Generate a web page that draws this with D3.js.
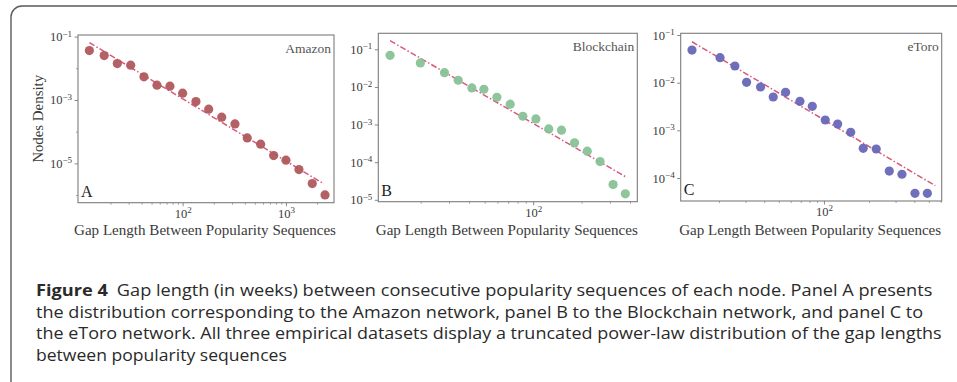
<!DOCTYPE html>
<html>
<head>
<meta charset="utf-8">
<script src="https://cdn.jsdelivr.net/npm/d3@7"></script>
<style>
  body { margin: 0; background: #fff; }
</style>
</head>
<body>
<script>
const width = 957;
const height = 382;

// Panel A - Amazon
const amazonGap = [12.5, 17.4, 23.3, 31.4, 42.2, 56.4, 75.3, 100, 134.5, 178.6, 238.8, 320.9, 422, 568.8, 760, 1000, 1336, 1798, 2388];
const amazonDensity = [0.0361, 0.0252, 0.01406, 0.01253, 0.00536, 0.00293, 0.00272, 0.001637, 8.9e-4, 5.13e-4, 2.87e-4, 1.76e-4, 6.37e-5, 4.03e-5, 1.76e-5, 1.26e-5, 6.37e-6, 2.31e-6, 1.01e-6];
const amazonFitX = [12.5, 2333];
const amazonFitY = [0.0647, 2.25e-6];

// Panel B - Blockchain
const blockchainGap = [12.9, 19.9, 28.1, 34.2, 41.6, 49.4, 59.5, 72, 86.3, 104, 125, 150, 180.7, 217, 260.6, 314, 374];
const blockchainDensity = [0.0693, 0.0433, 0.0239, 0.01503, 0.0094, 0.00867, 0.00532, 0.00347, 0.00166, 0.00141, 7.66e-4, 7.08e-4, 3.26e-4, 1.96e-4, 1.04e-4, 2.55e-5, 1.44e-5];
const blockchainFitX = [12.9, 374];
const blockchainFitY = [0.169, 4.15e-5];

// Panel C - eToro
const etoroGap = [13.2, 20.3, 25.5, 30.5, 37.8, 45.9, 55.5, 69.2, 83.6, 102, 123.4, 150.7, 182.7, 223, 272.5, 331, 404, 488.6];
const etoroDensity = [0.0484, 0.0334, 0.0224, 0.0102, 0.00811, 0.00501, 0.00628, 0.00406, 0.00319, 0.00165, 0.00136, 9.1e-4, 4.2e-4, 4.06e-4, 1.40e-4, 1.20e-4, 4.78e-5, 4.78e-5];
const etoroFitX = [13.2, 552];
const etoroFitY = [0.0723, 6.9e-5];

const xLabel = "Gap Length Between Popularity Sequences";
const yLabel = "Nodes Density";

const captionLines = [
  "Gap length (in weeks) between consecutive popularity sequences of each node. Panel A presents",
  "the distribution corresponding to the Amazon network, panel B to the Blockchain network, and panel C to",
  "the eToro network. All three empirical datasets display a truncated power-law distribution of the gap lengths",
  "between popularity sequences"
];

const panels = [
  { name: "Amazon", letter: "A", gap: amazonGap, density: amazonDensity, fitX: amazonFitX, fitY: amazonFitY,
    color: "#b0585e", x0: 78, x1: 334, y0: 35, y1: 202.7,
    xDomain: [Math.pow(10, 0.987), Math.pow(10, 3.465)], yDomain: [Math.pow(10, -6.24), Math.pow(10, -0.95)],
    xMajor: [1e2, 1e3], yMajor: [1e-1, 1e-3, 1e-5], yMinor: [1e-2, 1e-4, 1e-6], showY: true },
  { name: "Blockchain", letter: "B", gap: blockchainGap, density: blockchainDensity, fitX: blockchainFitX, fitY: blockchainFitY,
    color: "#88c298", x0: 378.3, x1: 637.3, y0: 33.3, y1: 201.7,
    xDomain: [10.9, 444], yDomain: [Math.pow(10, -5.05), Math.pow(10, -0.575)],
    xMajor: [1e2], yMajor: [1e-1, 1e-2, 1e-3, 1e-4, 1e-5], yMinor: [], showY: false },
  { name: "eToro", letter: "C", gap: etoroGap, density: etoroDensity, fitX: etoroFitX, fitY: etoroFitY,
    color: "#6767b8", x0: 680.7, x1: 941.7, y0: 33.3, y1: 201,
    xDomain: [11.1, 609], yDomain: [Math.pow(10, -4.482), Math.pow(10, -0.964)],
    xMajor: [1e2], yMajor: [1e-1, 1e-2, 1e-3, 1e-4], yMinor: [], showY: false }
];

const svg = d3.select("body").append("svg")
    .attr("width", width)
    .attr("height", height);

// outer frame of the figure box
svg.append("rect")
    .attr("x", 11).attr("y", 6)
    .attr("width", 1000).attr("height", 386)
    .attr("rx", 11)
    .attr("fill", "none")
    .attr("stroke", "#5a5a5a")
    .attr("stroke-width", 1.4);

const serif = "'Liberation Serif', 'DejaVu Serif', serif";
const axisColor = "#7c7c7c";
const textColor = "#3a3a3a";

function superscriptLabels(g) {
  g.selectAll(".tick text").each(function(d) {
    const t = d3.select(this);
    const e = Math.round(Math.log10(d));
    t.text("10");
    t.append("tspan")
        .attr("dy", "-0.5em")
        .attr("font-size", "0.72em")
        .text(e < 0 ? "\u2212" + (-e) : String(e));
  });
}

function minorTicks(domain) {
  const out = [];
  const lo = Math.floor(Math.log10(domain[0]));
  const hi = Math.ceil(Math.log10(domain[1]));
  for (let p = lo; p <= hi; p++) {
    for (let m = 2; m <= 9; m++) {
      const v = m * Math.pow(10, p);
      if (v >= domain[0] && v <= domain[1]) out.push(v);
    }
  }
  return out;
}

panels.forEach(p => {
  const x = d3.scaleLog().domain(p.xDomain).range([p.x0, p.x1]);
  const y = d3.scaleLog().domain(p.yDomain).range([p.y1, p.y0]);
  const g = svg.append("g");

  g.append("rect")
      .attr("x", p.x0).attr("y", p.y0)
      .attr("width", p.x1 - p.x0).attr("height", p.y1 - p.y0)
      .attr("fill", "#fff");

  // minor x ticks
  g.append("g")
      .attr("transform", `translate(0,${p.y1})`)
      .call(d3.axisBottom(x).tickValues(minorTicks(p.xDomain)).tickSize(2).tickFormat(""))
      .call(s => s.select(".domain").remove())
      .call(s => s.selectAll("line").attr("stroke", axisColor).attr("stroke-width", 0.7));

  // major x ticks
  g.append("g")
      .attr("transform", `translate(0,${p.y1})`)
      .call(d3.axisBottom(x).tickValues(p.xMajor).tickSize(3.5).tickPadding(2.5).tickFormat(d => d))
      .call(s => s.select(".domain").remove())
      .call(s => s.selectAll("line").attr("stroke", axisColor).attr("stroke-width", 0.9))
      .call(s => s.selectAll("text").attr("font-family", serif).attr("font-size", 12.5).attr("fill", textColor))
      .call(superscriptLabels);

  // y ticks
  if (p.yMinor.length) {
    g.append("g")
        .attr("transform", `translate(${p.x0},0)`)
        .call(d3.axisLeft(y).tickValues(p.yMinor).tickSize(2).tickFormat(""))
        .call(s => s.select(".domain").remove())
        .call(s => s.selectAll("line").attr("stroke", axisColor).attr("stroke-width", 0.7));
  }
  g.append("g")
      .attr("transform", `translate(${p.x0},0)`)
      .call(d3.axisLeft(y).tickValues(p.yMajor).tickSize(3.5).tickPadding(2.5).tickFormat(d => d))
      .call(s => s.select(".domain").remove())
      .call(s => s.selectAll("line").attr("stroke", axisColor).attr("stroke-width", 0.9))
      .call(s => s.selectAll("text").attr("font-family", serif).attr("font-size", 12.5).attr("fill", textColor))
      .call(superscriptLabels);

  // fitted power law
  const fit = p.fitX.map((v, i) => [v, p.fitY[i]]);
  g.append("path")
      .attr("d", d3.line().x(d => x(d[0])).y(d => y(d[1]))(fit))
      .attr("fill", "none")
      .attr("stroke", "#d9587c")
      .attr("stroke-width", 1.5)
      .attr("stroke-dasharray", "6,2.2,1.5,2.2");

  // points
  g.selectAll("circle.pt")
      .data(p.gap.map((v, i) => [v, p.density[i]]))
      .join("circle")
      .attr("class", "pt")
      .attr("cx", d => x(d[0]))
      .attr("cy", d => y(d[1]))
      .attr("r", 4.6)
      .attr("fill", p.color)
      .attr("fill-opacity", 0.95);

  // frame
  g.append("rect")
      .attr("x", p.x0).attr("y", p.y0)
      .attr("width", p.x1 - p.x0).attr("height", p.y1 - p.y0)
      .attr("fill", "none")
      .attr("stroke", axisColor)
      .attr("stroke-width", 1.1);

  g.append("text")
      .attr("x", p.x1 - 3).attr("y", p.y0 + 18)
      .attr("text-anchor", "end")
      .attr("font-family", serif).attr("font-size", 13.5)
      .attr("fill", "#555")
      .text(p.name);

  g.append("text")
      .attr("x", p.x0 + 3).attr("y", p.y1 - 6)
      .attr("font-family", serif).attr("font-size", 16)
      .attr("fill", "#222")
      .text(p.letter);

  g.append("text")
      .attr("x", (p.x0 + p.x1) / 2 - 1).attr("y", 235)
      .attr("text-anchor", "middle")
      .attr("font-family", serif).attr("font-size", 15.5)
      .attr("fill", textColor)
      .attr("textLength", 262).attr("lengthAdjust", "spacingAndGlyphs")
      .text(xLabel);

  if (p.showY) {
    g.append("text")
        .attr("transform", `translate(43,${(p.y0 + p.y1) / 2}) rotate(-90)`)
        .attr("text-anchor", "middle")
        .attr("font-family", serif).attr("font-size", 15.5)
        .attr("fill", textColor)
        .attr("textLength", 88).attr("lengthAdjust", "spacingAndGlyphs")
        .text(yLabel);
  }
});

// caption: each line is drawn at natural width, then squeezed to the measured width
const sans = "'Open Sans', 'Noto Sans', sans-serif";
const captionWidths = [897, 888, 906, 251];
const cap = svg.append("g")
    .attr("font-family", sans)
    .attr("font-size", 16.5)
    .attr("fill", "#2a2a2a");

captionLines.forEach((line, i) => {
  const row = cap.append("g");
  const t = row.append("text").attr("x", 0).attr("y", 0);
  if (i === 0) {
    t.append("tspan").attr("font-weight", "bold").text("Figure 4");
    t.append("tspan").text("\u2002" + line);
  } else {
    t.text(line);
  }
  const w = t.node().getComputedTextLength();
  row.attr("transform", `translate(36,${296 + i * 21.6}) scale(${captionWidths[i] / w},1)`);
});
</script>
</body>
</html>
